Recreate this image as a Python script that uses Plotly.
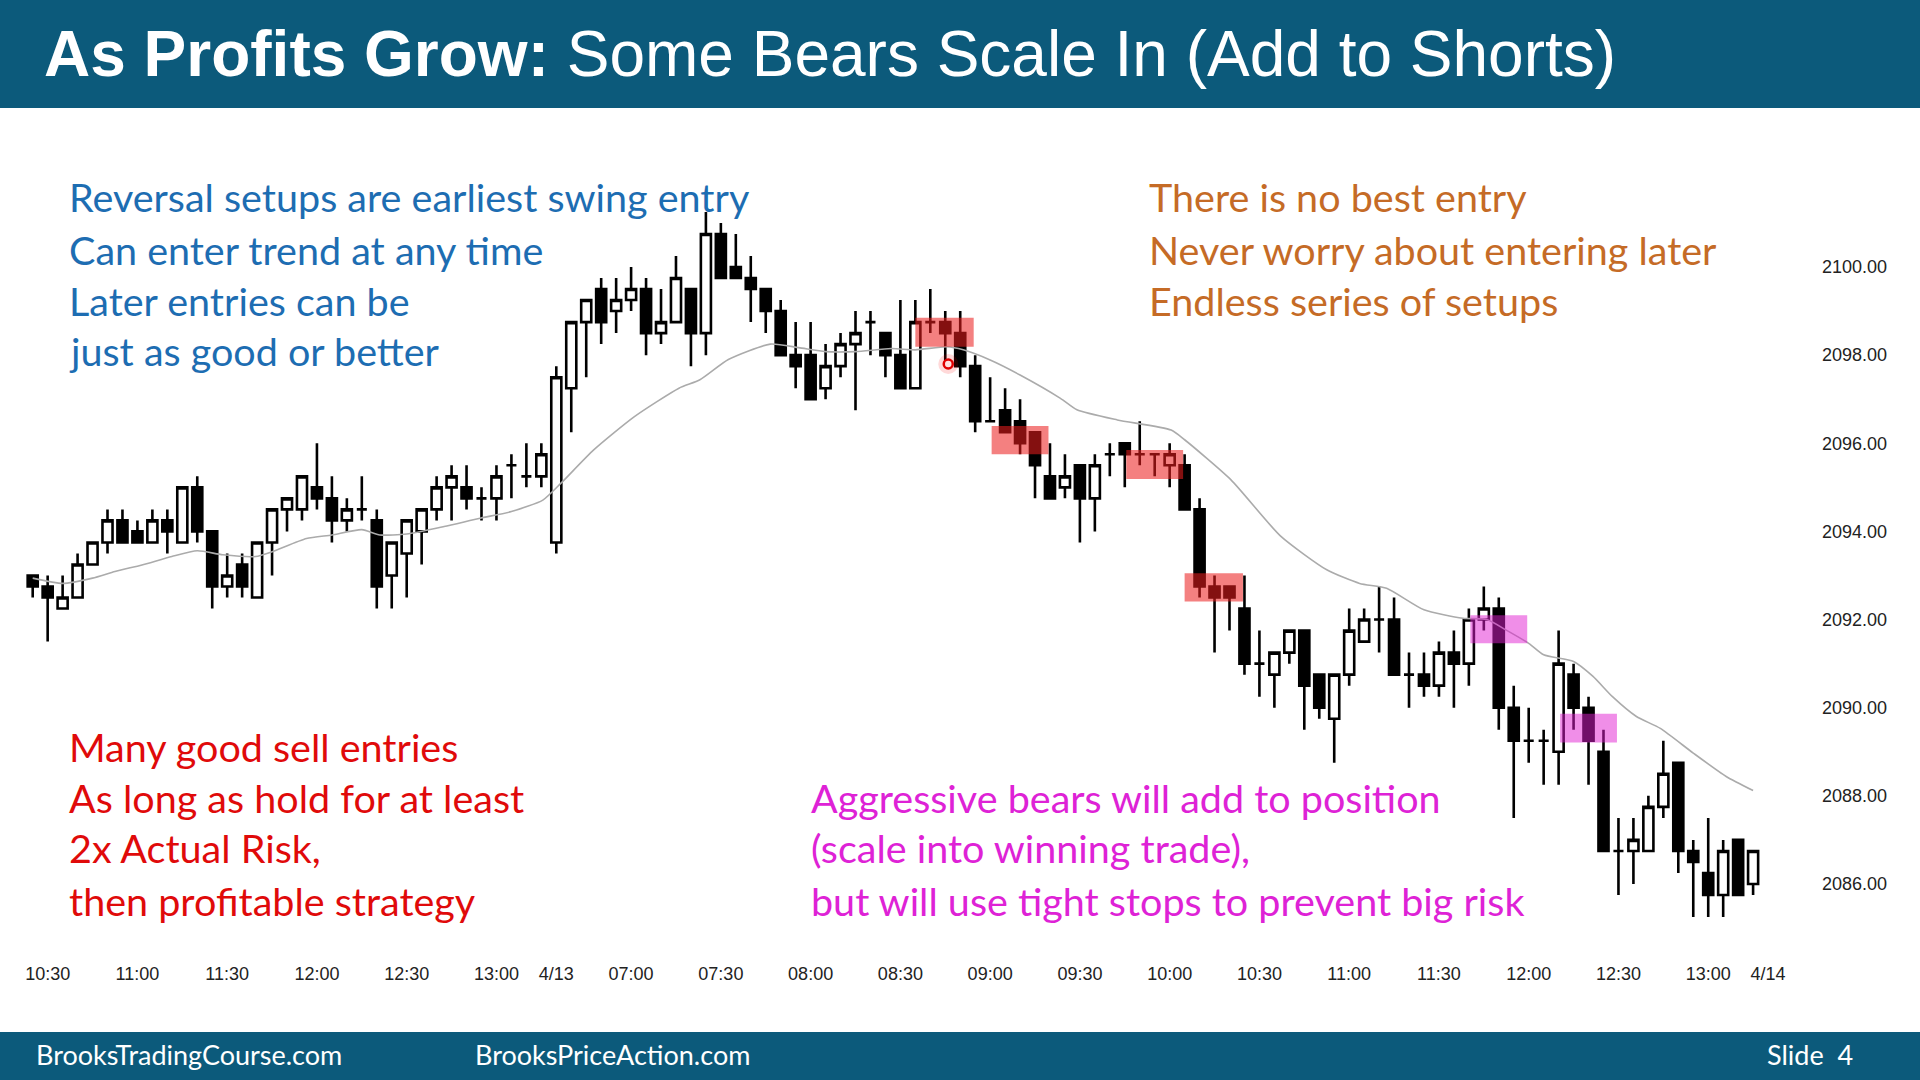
import plotly.graph_objects as go

# ---------------- data ----------------
bar_index = list(range(116))

opens = [2093.0, 2092.75, 2092.25, 2092.5, 2093.25, 2093.75, 2094.25, 2094.0, 2093.75, 2094.25,
         2093.75, 2095.0, 2094.0, 2092.75, 2093.25, 2092.5, 2093.75, 2094.5, 2094.5, 2095.0,
         2094.75, 2094.25, 2094.5, 2094.25, 2093.0, 2093.5, 2094.0, 2094.5, 2095.0, 2095.0,
         2094.75, 2094.75, 2095.5, 2095.25, 2095.25, 2093.75, 2097.25, 2098.75, 2099.5, 2099.0,
         2099.25, 2099.5, 2098.5, 2098.75, 2099.5, 2098.5, 2100.75, 2100.0, 2099.75, 2099.5,
         2099.0, 2098.0, 2098.0, 2097.25, 2097.75, 2098.25, 2098.75, 2098.5, 2098.0, 2097.25,
         2098.75, 2098.75, 2098.5, 2097.75, 2096.5, 2096.75, 2096.5, 2096.25, 2095.25, 2095.0,
         2095.5, 2094.75, 2095.75, 2096.0, 2095.75, 2095.75, 2095.5, 2095.5, 2094.5, 2092.75,
         2092.75, 2092.25, 2091.0, 2090.75, 2091.25, 2091.75, 2090.75, 2089.75, 2090.75, 2091.5,
         2092.0, 2092.0, 2090.75, 2090.75, 2090.5, 2091.25, 2091.0, 2092.0, 2092.25, 2090.0,
         2089.25, 2089.25, 2089.0, 2090.75, 2090.0, 2089.0, 2086.75, 2086.75, 2086.75, 2087.75,
         2088.75, 2086.75, 2086.25, 2085.75, 2087.0, 2086.0]
highs = [2093.0, 2093.0, 2093.0, 2093.5, 2093.75, 2094.5, 2094.5, 2094.25, 2094.5, 2094.5,
         2095.0, 2095.25, 2094.0, 2093.5, 2093.5, 2093.75, 2094.5, 2094.75, 2095.25, 2096.0,
         2095.25, 2094.75, 2095.25, 2094.5, 2093.75, 2094.25, 2094.5, 2095.25, 2095.5, 2095.5,
         2095.0, 2095.5, 2095.75, 2096.0, 2096.0, 2097.75, 2098.75, 2099.25, 2099.75, 2099.75,
         2100.0, 2099.75, 2099.5, 2100.25, 2099.5, 2101.25, 2101.0, 2100.75, 2100.25, 2099.5,
         2099.25, 2098.75, 2098.75, 2098.25, 2098.5, 2099.0, 2099.0, 2098.5, 2099.25, 2099.25,
         2099.5, 2099.0, 2099.0, 2098.0, 2097.5, 2097.25, 2097.0, 2096.25, 2096.0, 2095.75,
         2095.5, 2095.75, 2096.0, 2096.0, 2096.5, 2095.75, 2096.0, 2095.75, 2094.75, 2093.0,
         2092.75, 2093.0, 2091.75, 2091.25, 2091.75, 2091.75, 2090.75, 2090.75, 2092.25, 2092.25,
         2092.75, 2092.5, 2091.25, 2091.25, 2091.5, 2091.75, 2092.25, 2092.75, 2092.5, 2090.5,
         2090.0, 2089.5, 2091.75, 2091.0, 2090.25, 2089.5, 2087.5, 2087.5, 2088.0, 2089.25,
         2088.75, 2087.0, 2087.5, 2087.0, 2087.0, 2086.75]
lows = [2092.5, 2091.5, 2092.25, 2092.5, 2093.25, 2093.5, 2093.75, 2093.75, 2093.75, 2093.5,
        2093.75, 2093.75, 2092.25, 2092.5, 2092.5, 2092.5, 2093.0, 2094.0, 2094.25, 2094.5,
        2093.75, 2094.0, 2094.25, 2092.25, 2092.25, 2092.5, 2093.25, 2094.25, 2094.25, 2094.5,
        2094.25, 2094.25, 2094.75, 2095.0, 2095.0, 2093.5, 2096.25, 2097.5, 2098.25, 2098.5,
        2099.0, 2098.0, 2098.25, 2098.75, 2097.75, 2098.0, 2099.75, 2099.75, 2098.75, 2098.5,
        2098.0, 2097.25, 2097.0, 2097.0, 2097.5, 2096.75, 2098.0, 2097.5, 2097.25, 2097.25,
        2098.5, 2097.75, 2097.5, 2096.25, 2096.5, 2096.25, 2095.75, 2094.75, 2094.75, 2094.75,
        2093.75, 2094.0, 2095.25, 2095.0, 2095.5, 2095.25, 2095.0, 2094.5, 2092.5, 2091.25,
        2091.75, 2090.75, 2090.25, 2090.0, 2091.0, 2089.5, 2089.75, 2088.75, 2090.5, 2091.5,
        2091.25, 2090.75, 2090.0, 2090.25, 2090.25, 2090.0, 2090.5, 2091.75, 2089.5, 2087.5,
        2088.75, 2088.25, 2088.25, 2089.5, 2088.25, 2086.75, 2085.75, 2086.0, 2086.75, 2087.5,
        2086.25, 2085.25, 2085.25, 2085.25, 2085.75, 2085.75]
closes = [2092.75, 2092.5, 2092.5, 2093.25, 2093.75, 2094.25, 2093.75, 2093.75, 2094.25, 2094.0,
          2095.0, 2094.0, 2092.75, 2093.0, 2092.75, 2093.75, 2094.5, 2094.75, 2095.25, 2094.75,
          2094.25, 2094.5, 2094.5, 2092.75, 2093.75, 2094.25, 2094.5, 2095.0, 2095.25, 2094.75,
          2094.75, 2095.25, 2095.5, 2095.25, 2095.75, 2097.5, 2098.75, 2099.25, 2098.75, 2099.25,
          2099.5, 2098.5, 2098.75, 2099.75, 2098.5, 2100.75, 2099.75, 2099.75, 2099.5, 2099.0,
          2098.0, 2097.75, 2097.0, 2097.75, 2098.25, 2098.5, 2098.75, 2098.0, 2097.25, 2098.75,
          2098.75, 2098.5, 2097.75, 2096.5, 2096.5, 2096.25, 2096.0, 2095.5, 2094.75, 2095.25,
          2094.75, 2095.5, 2095.75, 2095.75, 2095.75, 2095.75, 2095.75, 2094.5, 2092.75, 2092.5,
          2092.5, 2091.0, 2091.0, 2091.25, 2091.75, 2090.5, 2090.0, 2090.75, 2091.75, 2092.0,
          2092.0, 2090.75, 2090.75, 2090.5, 2091.25, 2091.0, 2092.0, 2092.25, 2090.0, 2089.25,
          2089.25, 2089.25, 2091.0, 2090.0, 2089.25, 2086.75, 2086.75, 2087.0, 2087.75, 2088.5,
          2086.75, 2086.5, 2085.75, 2086.75, 2085.75, 2086.75]

ema_index = [0, 2, 4, 5.5, 7.3, 9.3, 11, 12.7, 14.9, 16, 18.3, 20, 22, 23.2, 25, 27.5, 29.9, 32,
             34.1, 35.3, 37.5, 40.2, 43.2, 44.6, 46.5, 49.3, 51.2, 53, 55, 57.4, 59, 61.1, 62.2,
             64, 66, 68.7, 69.8, 72.5, 76.1, 77, 80.1, 83.4, 86.5, 88.7, 90.5, 93, 95.6, 97.2,
             98.5, 100, 101, 103, 104.3, 105.6, 107.2, 108.8, 111, 113.2, 115]
ema_value = [2092.94, 2092.82, 2092.94, 2093.09, 2093.24, 2093.43, 2093.56, 2093.47, 2093.43,
             2093.54, 2093.84, 2093.92, 2094.04, 2093.92, 2093.94, 2094.11, 2094.3, 2094.45,
             2094.71, 2095.09, 2095.85, 2096.6, 2097.25, 2097.44, 2097.9, 2098.25, 2098.17,
             2098.08, 2098.08, 2098.15, 2098.12, 2098.19, 2098.12, 2097.89, 2097.55, 2097.02,
             2096.76, 2096.53, 2096.3, 2096.08, 2095.17, 2093.9, 2093.13, 2092.82, 2092.71,
             2092.22, 2092.03, 2092.0, 2091.76, 2091.46, 2091.2, 2091.05, 2090.71, 2090.25,
             2089.8, 2089.53, 2088.97, 2088.44, 2088.12]

x_tick_index = [1, 7, 13, 19, 25, 31, 35, 40, 46, 52, 58, 64, 70, 76, 82, 88, 94, 100, 106, 112, 116]
x_tick_text = ["10:30", "11:00", "11:30", "12:00", "12:30", "13:00", "4/13", "07:00", "07:30",
               "08:00", "08:30", "09:00", "09:30", "10:00", "10:30", "11:00", "11:30", "12:00",
               "12:30", "13:00", "4/14"]
y_tick_values = [2086, 2088, 2090, 2092, 2094, 2096, 2098, 2100]
y_tick_text = ["2086.00", "2088.00", "2090.00", "2092.00", "2094.00", "2096.00", "2098.00", "2100.00"]

# highlighted entry zones: (x start, x end, price low, price high)
red_zones = [(59.0, 62.9, 2098.19, 2098.85), (64.1, 67.9, 2095.75, 2096.39),
             (73.1, 76.9, 2095.19, 2095.85), (77.0, 80.9, 2092.41, 2093.05)]
pink_zones = [(96.1, 99.9, 2091.46, 2092.1), (102.1, 105.9, 2089.21, 2089.86)]

cursor_point = (61.2, 2097.8)

title_bold = "As Profits Grow:"
title_rest = " Some Bears Scale In (Add to Shorts)"
blue_lines = ["Reversal setups are earliest swing entry", "Can enter trend at any time",
              "Later entries can be", "just as good or better"]
orange_lines = ["There is no best entry", "Never worry about entering later",
                "Endless series of setups"]
red_lines = ["Many good sell entries", "As long as hold for at least", "2x Actual Risk,",
             "then profitable strategy"]
magenta_lines = ["Aggressive bears will add to position", "(scale into winning trade),",
                 "but will use tight stops to prevent big risk"]
footer_left = "BrooksTradingCourse.com"
footer_mid = "BrooksPriceAction.com"
footer_right = "Slide  4"

# ---------------- figure ----------------
W, H = 1920, 1080
BAR_PX = 14.96
FIRST_PX = 32.7
PLOT_RIGHT = 1815
PLOT_TOP, PLOT_BOTTOM = 110, 958
PX_PER_PT = 44.07
P_AT_267 = 2100.0

x_range = [-FIRST_PX / BAR_PX, (PLOT_RIGHT - FIRST_PX) / BAR_PX]
y_range = [P_AT_267 - (PLOT_BOTTOM - 267) / PX_PER_PT, P_AT_267 + (267 - PLOT_TOP) / PX_PER_PT]

fig = go.Figure()

fig.add_trace(go.Scatter(
    x=ema_index, y=ema_value, mode="lines",
    line=dict(color="#ABABAB", width=1.6, shape="spline", smoothing=0.6),
    hoverinfo="skip", showlegend=False))

fig.add_trace(go.Candlestick(
    x=bar_index, open=opens, high=highs, low=lows, close=closes,
    increasing=dict(fillcolor="white", line=dict(color="black", width=2.6)),
    decreasing=dict(fillcolor="black", line=dict(color="black", width=2.6)),
    whiskerwidth=0, showlegend=False, hoverinfo="skip"))

fig.add_trace(go.Scatter(
    x=[cursor_point[0]], y=[cursor_point[1]], mode="markers",
    marker=dict(size=20, color="rgba(255,0,0,0.15)", line=dict(width=0)),
    hoverinfo="skip", showlegend=False))
fig.add_trace(go.Scatter(
    x=[cursor_point[0]], y=[cursor_point[1]], mode="markers",
    marker=dict(size=9, color="#ffe0e0", line=dict(color="#e00000", width=2.5)),
    hoverinfo="skip", showlegend=False))

shapes = []
for (x0, x1, y0, y1) in red_zones:
    shapes.append(dict(type="rect", xref="x", yref="y", x0=x0, x1=x1, y0=y0, y1=y1,
                       fillcolor="rgba(236,28,28,0.56)", line=dict(width=0), layer="above"))
for (x0, x1, y0, y1) in pink_zones:
    shapes.append(dict(type="rect", xref="x", yref="y", x0=x0, x1=x1, y0=y0, y1=y1,
                       fillcolor="rgba(226,30,210,0.5)", line=dict(width=0), layer="above"))

BAND = "#0C5A7B"
shapes.append(dict(type="rect", xref="paper", yref="paper", x0=0, x1=1, y0=1 - 108 / H, y1=1,
                   fillcolor=BAND, line=dict(width=0), layer="above"))
shapes.append(dict(type="rect", xref="paper", yref="paper", x0=0, x1=1, y0=0, y1=(H - 1032) / H,
                   fillcolor=BAND, line=dict(width=0), layer="above"))

TEXT_FONT = "Lato, 'Noto Sans', sans-serif"
ARIAL = "'Liberation Sans', Arial, sans-serif"
annotations = []


def add_text(txt, x_px, y_px, color, size, family=TEXT_FONT, anchor="left"):
    annotations.append(dict(text=txt, xref="paper", yref="paper", x=x_px / W, y=1 - y_px / H,
                            xanchor=anchor, yanchor="middle", showarrow=False,
                            font=dict(family=family, size=size, color=color)))


add_text("<b>" + title_bold + "</b>" + title_rest, 42, 54, "white", 64, family=ARIAL)

BODY_SIZE = 39.5
line_y_top = [197, 249, 300, 351]
for i, t in enumerate(blue_lines):
    add_text(t, 67, line_y_top[i], "#1D6DB2", BODY_SIZE)
for i, t in enumerate(orange_lines):
    add_text(t, 1147, line_y_top[i], "#C56B26", BODY_SIZE)
line_y_bot = [746, 797, 847, 900]
for i, t in enumerate(red_lines):
    add_text(t, 67, line_y_bot[i], "#E00A0A", BODY_SIZE)
for i, t in enumerate(magenta_lines):
    add_text(t, 809, line_y_bot[i + 1], "#DE22D6", BODY_SIZE)

add_text(footer_left, 34, 1054, "white", 27)
add_text(footer_mid, 473, 1054, "white", 27)
add_text(footer_right, 1765, 1054, "white", 27)

fig.update_layout(
    width=W, height=H,
    margin=dict(l=0, r=0, t=0, b=0),
    paper_bgcolor="white", plot_bgcolor="white",
    showlegend=False,
    boxgap=0.16, boxgroupgap=0.2,
    shapes=shapes, annotations=annotations,
    xaxis=dict(domain=[0, PLOT_RIGHT / W], range=x_range, showgrid=False, zeroline=False,
               showline=False, ticks="", tickvals=x_tick_index, ticktext=x_tick_text,
               tickfont=dict(family=ARIAL, size=18, color="#222222"), ticklabelstandoff=3,
               rangeslider=dict(visible=False), fixedrange=True, automargin=False),
    yaxis=dict(domain=[(H - PLOT_BOTTOM) / H, (H - PLOT_TOP) / H], range=y_range,
               side="right", showgrid=False, zeroline=False, showline=False, ticks="",
               tickvals=y_tick_values, ticktext=y_tick_text, ticklabelstandoff=6,
               tickfont=dict(family=ARIAL, size=18, color="#222222"),
               fixedrange=True, automargin=False),
)

fig.write_html("out.html", config={"displayModeBar": False},
               post_script="document.body.style.margin='0';document.body.style.padding='0';")
